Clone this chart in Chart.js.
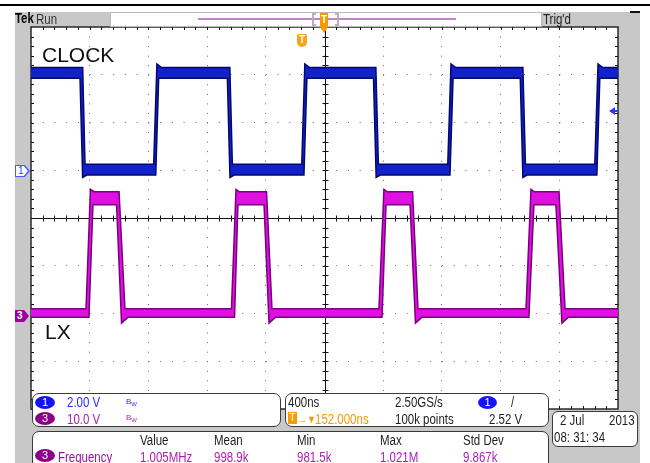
<!DOCTYPE html>
<html lang="en">
<head>
    <meta charset="UTF-8">
    <title>CLOCK / LX scope capture</title>
    <script src="https://cdn.jsdelivr.net/npm/chart.js"></script>
    <style>
        body { margin: 0; background: #fff; }
        #screen { position: relative; width: 650px; height: 463px; overflow: hidden; background: #fff; }
        #screen > * { position: absolute; }
        .rule { left: 0; top: 4px; width: 650px; height: 2px; background: #000; }
        .rule2 { left: 630px; top: 11px; width: 10px; height: 2px; background: #111; }
        .bezel { left: 15px; top: 12px; width: 625px; height: 451px; background: #c8c8c8; }
        canvas { left: 0; top: 0; }

        /* scope font is narrow: squeeze Liberation Sans */
        .txt {
            font-family: "Liberation Sans", Arial, sans-serif;
            font-size: 14px; line-height: 14px; white-space: nowrap; color: #1e1e1e;
            transform: scaleX(0.82); transform-origin: 0 0;
        }
        .big { font-family: "Liberation Sans", Arial, sans-serif; font-size: 21px; line-height: 21px; color: #111; }
        .blue { color: #2b2bff; }
        .purple { color: #b01cb0; }
        .orange { color: #f59a00; }

        .hdrbox { left: 110px; top: 12px; width: 432px; height: 15px; background: #fff; border: 1px solid #b8b8b8; box-sizing: border-box; }
        .record { left: 198px; top: 18px; width: 258px; height: 2px; background: #c77fcf; }
        .brk-l, .brk-r { top: 13px; width: 4px; height: 13px; border: 2px solid #b4b4b4; box-sizing: border-box; }
        .brk-l { left: 312px; border-right: none; }
        .brk-r { left: 335px; border-left: none; }
        .tpos { left: 320px; top: 13px; width: 8px; height: 14px; background: #f59b00; color: #fff;
                font: bold 10px/14px "Liberation Sans", sans-serif; text-align: center; }
        .tpos-arrow { left: 320px; top: 27px; width: 0; height: 0; border-left: 4px solid transparent;
                      border-right: 4px solid transparent; border-top: 6px solid #f59b00; }
        .ttrig { left: 297px; top: 34px; width: 10px; height: 13px; background: #f7a21b; border-radius: 2px 2px 5px 5px;
                 color: #fff; font: bold 10px/12px "Liberation Sans", sans-serif; text-align: center; }

        .lvl-tri { left: 609px; top: 107px; width: 0; height: 0; border-top: 4px solid transparent;
                   border-bottom: 4px solid transparent; border-right: 6px solid #2a3cff; }
        .lvl-bar { left: 614px; top: 110px; width: 4px; height: 2px; background: #2a3cff; }

        .m1 { left: 15px; top: 165px; width: 15px; height: 12px; background: #4858ff;
              clip-path: polygon(0 0, 65% 0, 100% 50%, 65% 100%, 0 100%); }
        .m1 span { position: absolute; left: 1px; top: 1px; width: 12px; height: 10px; background: #fff; color: #2a3cff;
                   clip-path: polygon(0 0, 65% 0, 100% 50%, 65% 100%, 0 100%);
                   font: 10px/10px "Liberation Sans", sans-serif; padding-left: 2px; box-sizing: border-box; }
        .m3 { left: 15px; top: 310px; width: 14px; height: 12px; background: #9a009a; color: #fff;
              clip-path: polygon(0 0, 65% 0, 100% 50%, 65% 100%, 0 100%);
              font: bold 10px/12px "Liberation Sans", sans-serif; padding-left: 2px; box-sizing: border-box; }

        .panel { background: #fff; border: 1px solid #3a3a3a; border-radius: 7px; box-sizing: border-box; }
        .badge { width: 20px; height: 13px; border-radius: 50%; color: #fff; text-align: center;
                 font: 11px/13px "Liberation Sans", sans-serif; }
        .b1 { background: #1414f0; }
        .b3 { background: #8a008a; }
        .bw { font: 8px/8px "Liberation Sans", sans-serif; }
        .bw span { font-size: 6px; position: relative; top: 2px; }
        .tbox { width: 9px; height: 12px; background: #f59a00; color: #fff; text-align: center;
                font: 10px/12px "Liberation Sans", sans-serif; }
    </style>
</head>
<body>
<div id="screen">
    <div class="rule"></div>
    <div class="bezel"></div>
    <div class="rule2"></div>
    <canvas id="scope" width="650" height="463"></canvas>

    <!-- header -->
    <div class="txt" style="left:15px; top:10.5px; font-weight:bold; font-size:15px; transform:scaleX(0.76); color:#000;">Tek</div>
    <div class="txt" style="left:36px; top:11.5px; color:#333;">Run</div>
    <div class="hdrbox"></div>
    <div class="record"></div>
    <div class="brk-l"></div>
    <div class="brk-r"></div>
    <div class="tpos">T</div>
    <div class="tpos-arrow"></div>
    <div class="txt" style="left:543px; top:11.5px; color:#222;">Trig'd</div>

    <!-- on-screen markers -->
    <div class="ttrig">T</div>
    <div class="lvl-tri"></div>
    <div class="lvl-bar"></div>
    <div class="m1"><span>1</span></div>
    <div class="m3">3</div>
    <div class="big" style="left:42px; top:44px;">CLOCK</div>
    <div class="big" style="left:45px; top:321px;">LX</div>

    <!-- channel panel -->
    <div class="panel" style="left:32px; top:393px; width:249px; height:34px;"></div>
    <div class="badge b1" style="left:35px; top:396px;">1</div>
    <div class="txt blue" style="left:67px; top:395px;">2.00 V</div>
    <div class="bw blue" style="left:126px; top:398px;">B<span>W</span></div>
    <div class="badge b3" style="left:35px; top:412px;">3</div>
    <div class="txt purple" style="left:67px; top:411.5px;">10.0 V</div>
    <div class="bw purple" style="left:126px; top:414px;">B<span>W</span></div>

    <!-- timebase panel -->
    <div class="panel" style="left:285px; top:393px; width:264px; height:34px;"></div>
    <div class="txt" style="left:288px; top:395px;">400ns</div>
    <div class="txt" style="left:395px; top:395px;">2.50GS/s</div>
    <div class="badge b1" style="left:478px; top:396px; width:19px;">1</div>
    <div class="txt" style="left:511px; top:395px;">/</div>
    <div class="tbox" style="left:288px; top:412px;">T</div>
    <div class="txt orange" style="left:298px; top:412px; font-size:11px;">→▼</div>
    <div class="txt orange" style="left:315px; top:411.5px;">152.000ns</div>
    <div class="txt" style="left:395px; top:411.5px;">100k points</div>
    <div class="txt" style="left:489px; top:411.5px;">2.52 V</div>

    <!-- date -->
    <div class="panel" style="left:552px; top:411px; width:86px; height:36px; border-radius:6px;"></div>
    <div class="txt" style="left:560px; top:413px;">2 Jul</div>
    <div class="txt" style="left:609px; top:413px;">2013</div>
    <div class="txt" style="left:554px; top:430px;">08: 31: 34</div>

    <!-- measurements -->
    <div class="panel" style="left:32px; top:431px; width:517px; height:45px;"></div>
    <div class="txt" style="left:140px; top:433px;">Value</div>
    <div class="txt" style="left:214px; top:433px;">Mean</div>
    <div class="txt" style="left:297px; top:433px;">Min</div>
    <div class="txt" style="left:380px; top:433px;">Max</div>
    <div class="txt" style="left:463px; top:433px;">Std Dev</div>
    <div class="badge b3" style="left:35px; top:449px;">3</div>
    <div class="txt" style="left:58px; top:450px; color:#9a10a8;">Frequency</div>
    <div class="txt purple" style="left:140px; top:450px;">1.005MHz</div>
    <div class="txt purple" style="left:214px; top:450px;">998.9k</div>
    <div class="txt purple" style="left:297px; top:450px;">981.5k</div>
    <div class="txt purple" style="left:380px; top:450px;">1.021M</div>
    <div class="txt purple" style="left:463px; top:450px;">9.867k</div>
</div>

<script>
    // time in ns across the 10 divisions (400 ns/div)
    // CLOCK, ch1, volts (2 V/div) - top and bottom edge of the trace band
    const clockUpperT = [0, 352, 368, 836, 858, 890, 1355, 1372, 1845, 1866, 1898, 2350, 2367, 2840, 2862, 2894, 3352, 3369, 3842, 3864, 3896, 4000];
    const clockUpperV = [4.3, 4.3, 0.25, 0.25, 4.45, 4.3, 4.3, 0.25, 0.25, 4.45, 4.3, 4.3, 0.25, 0.25, 4.45, 4.3, 4.3, 0.25, 0.25, 4.45, 4.3, 4.3];
    const clockLowerT = [0, 334, 352, 380, 850, 870, 1338, 1356, 1384, 1860, 1880, 2334, 2352, 2380, 2855, 2876, 3334, 3352, 3380, 3856, 3876, 4000];
    const clockLowerV = [3.85, 3.85, -0.3, -0.2, -0.2, 3.85, 3.85, -0.3, -0.2, -0.2, 3.85, 3.85, -0.3, -0.2, -0.2, 3.85, 3.85, -0.3, -0.2, -0.2, 3.85, 3.85];

    // LX, ch3, volts (10 V/div)
    const lxUpperT = [0, 375, 405, 430, 600, 640, 1366, 1397, 1420, 1605, 1642, 2371, 2405, 2428, 2600, 2637, 3373, 3407, 3430, 3598, 3639, 4000];
    const lxUpperV = [1.0, 1.0, 26.0, 25.5, 25.5, 1.0, 1.0, 26.0, 25.5, 25.5, 1.0, 1.0, 26.0, 25.5, 25.5, 1.0, 1.0, 26.0, 25.5, 25.5, 1.0, 1.0];
    const lxLowerT = [0, 395, 422, 583, 617, 660, 1387, 1410, 1588, 1622, 1665, 2392, 2419, 2583, 2620, 2663, 3393, 3427, 3577, 3618, 3661, 4000];
    const lxLowerV = [-0.8, -0.8, 22.8, 22.8, -2.0, -0.8, -0.8, 22.8, 22.8, -2.0, -0.8, -0.8, 22.8, 22.8, -2.0, -0.8, -0.8, 22.8, 22.8, -2.0, -0.8, -0.8];

    const toPoints = (t, v) => t.map((x, i) => ({ x: x, y: v[i] }));

    // solid frame, centre cross and the little 1/5 division ticks
    const graticule = {
        id: 'graticule',
        beforeDraw(chart) {
            const { ctx, chartArea: a } = chart;
            ctx.save();
            ctx.fillStyle = '#fff';
            ctx.fillRect(a.left, a.top, a.width, a.height);
            ctx.restore();
        },
        beforeDatasetsDraw(chart) {
            const { ctx, chartArea: a, scales } = chart;
            const x = scales.x, y = scales.y1;
            const cx = Math.round(x.getPixelForValue(2000)) + 0.5;
            const cy = Math.round(y.getPixelForValue(-2)) + 0.5;
            ctx.save();
            ctx.strokeStyle = '#111';
            ctx.lineWidth = 1;
            ctx.beginPath();
            ctx.moveTo(a.left, cy); ctx.lineTo(a.right, cy);
            ctx.moveTo(cx, a.top); ctx.lineTo(cx, a.bottom);
            for (let t = 80; t < 4000; t += 80) {
                const px = Math.round(x.getPixelForValue(t)) + 0.5;
                ctx.moveTo(px, cy - 3); ctx.lineTo(px, cy + 3);
                ctx.moveTo(px, a.top); ctx.lineTo(px, a.top + 3);
                ctx.moveTo(px, a.bottom); ctx.lineTo(px, a.bottom - 3);
            }
            for (let k = 1; k < 40; k++) {
                const py = Math.round(y.getPixelForValue(-10 + k * 0.4)) + 0.5;
                ctx.moveTo(cx - 3, py); ctx.lineTo(cx + 3, py);
                ctx.moveTo(a.left, py); ctx.lineTo(a.left + 3, py);
                ctx.moveTo(a.right, py); ctx.lineTo(a.right - 3, py);
            }
            ctx.stroke();
            ctx.lineWidth = 1.5;
            ctx.strokeStyle = '#2a2a2a';
            ctx.strokeRect(a.left, a.top, a.width, a.height);
            ctx.restore();
        }
    };

    const scopeChart = new Chart(document.getElementById('scope'), {
        type: 'line',
        data: {
            datasets: [
                { label: 'CLOCK top', data: toPoints(clockUpperT, clockUpperV), yAxisID: 'y1',
                  borderColor: '#00086e', borderWidth: 1.5, fill: false },
                { label: 'CLOCK', data: toPoints(clockLowerT, clockLowerV), yAxisID: 'y1',
                  borderColor: '#00086e', borderWidth: 1.5, backgroundColor: '#1322c8', fill: '-1' },
                { label: 'LX top', data: toPoints(lxUpperT, lxUpperV), yAxisID: 'y3',
                  borderColor: '#7a0080', borderWidth: 1.5, fill: false },
                { label: 'LX', data: toPoints(lxLowerT, lxLowerV), yAxisID: 'y3',
                  borderColor: '#7a0080', borderWidth: 1.5, backgroundColor: '#e010e0', fill: '-1' }
            ]
        },
        options: {
            responsive: false,
            animation: false,
            events: [],
            layout: { padding: { left: 31, top: 27, right: 32, bottom: 54 } },
            elements: { point: { radius: 0 }, line: { tension: 0 } },
            plugins: { legend: { display: false }, tooltip: { enabled: false } },
            scales: {
                x: {
                    type: 'linear', min: 0, max: 4000,
                    ticks: { display: false, stepSize: 400 },
                    grid: { color: '#666', drawTicks: false },
                    border: { display: false, dash: [1, 8.55] }
                },
                y1: {
                    position: 'left', min: -10, max: 6,
                    ticks: { display: false, stepSize: 2 },
                    grid: { color: '#666', drawTicks: false },
                    border: { display: false, dash: [1, 10.74] }
                },
                y3: { display: false, min: -20, max: 60 }
            }
        },
        plugins: [graticule]
    });
</script>
</body>
</html>
